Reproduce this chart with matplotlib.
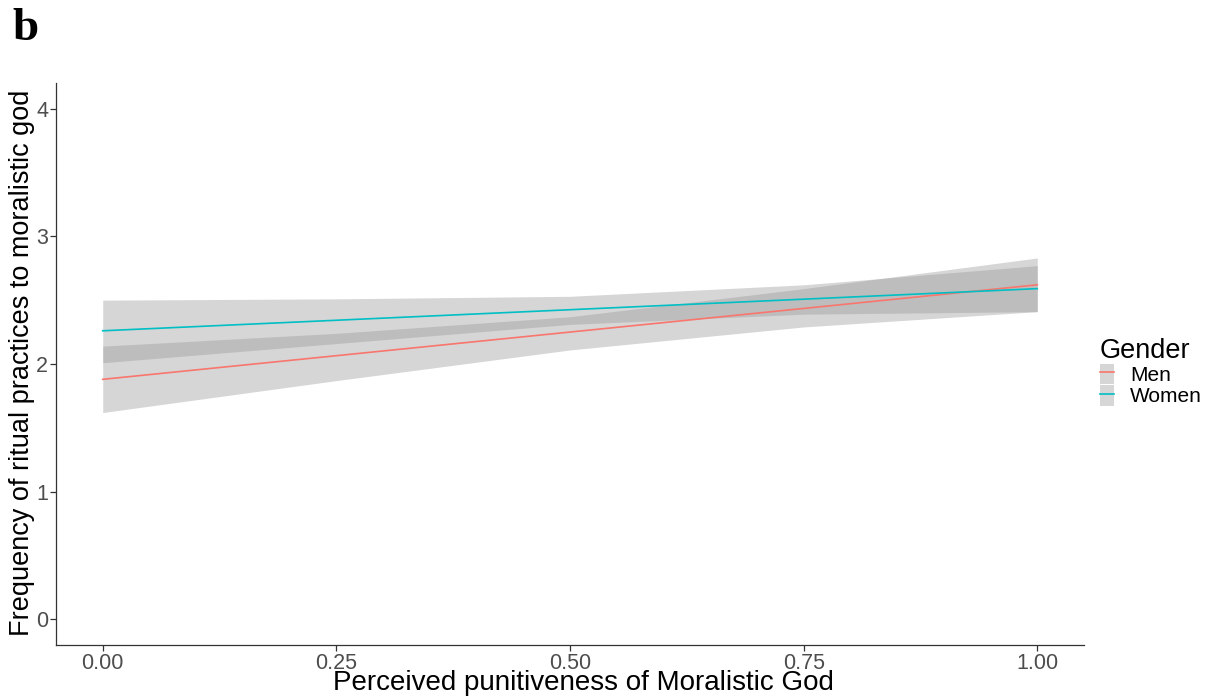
import matplotlib
matplotlib.use("Agg")
import matplotlib.pyplot as plt
from matplotlib.patches import Patch
from matplotlib.lines import Line2D

plt.rcParams['font.family'] = ['Liberation Sans', 'DejaVu Sans']

groups = ["Men", "Women"]
colors = ["#F8766D", "#00BFC4"]
line_x = [0.0, 1.0]
men_line = [1.88, 2.62]
women_line = [2.26, 2.59]
band_x = [0.0, 0.25, 0.5, 0.75, 1.0]
men_lower = [1.62, 1.87, 2.11, 2.29, 2.41]
men_upper = [2.14, 2.24, 2.37, 2.59, 2.83]
women_lower = [2.01, 2.16, 2.31, 2.39, 2.41]
women_upper = [2.50, 2.51, 2.53, 2.62, 2.77]
xticks = [0.0, 0.25, 0.5, 0.75, 1.0]
xticklabels = ["0.00", "0.25", "0.50", "0.75", "1.00"]
yticks = [0, 1, 2, 3, 4]

W, H = 1212, 698
fig = plt.figure(figsize=(W / 100, H / 100), dpi=100)
ax = fig.add_axes([56 / W, (H - 645) / H, (1084 - 56) / W, (645 - 83) / H])

lines = [men_line, women_line]
lowers = [men_lower, women_lower]
uppers = [men_upper, women_upper]
handles = []
for g, c, ln, lo, up in zip(groups, colors, lines, lowers, uppers):
    ax.fill_between(band_x, lo, up, color="#999999", alpha=0.4, linewidth=0)
for g, c, ln in zip(groups, colors, lines):
    ax.plot(line_x, ln, color=c, linewidth=1.2)
    handles.append((Patch(facecolor="#999999", alpha=0.4, edgecolor="none"),
                    Line2D([], [], color=c, linewidth=1.2)))

ax.set_xlim(-0.05, 1.05)
ax.set_ylim(-0.2, 4.2)
ax.set_xticks(xticks)
ax.set_xticklabels(xticklabels)
ax.set_yticks(yticks)
for s in ["top", "right"]:
    ax.spines[s].set_visible(False)
for s in ["left", "bottom"]:
    ax.spines[s].set_color("#333333")
    ax.spines[s].set_linewidth(0.9)
ax.tick_params(axis="both", colors="#333333", labelcolor="#4d4d4d",
               labelsize=15.5, length=4, width=0.9, pad=2)
ax.tick_params(axis="y", pad=1.5)

fig.text(583 / W, 1 - 690 / H, "Perceived punitiveness of Moralistic God",
         ha="center", va="baseline", fontsize=20)
fig.text(22 / W, 1 - 363 / H, "Frequency of ritual practices to moralistic god",
         ha="center", va="center", rotation=90, fontsize=19.5)
fig.text(12 / W, 1 - 29 / H, "b", ha="left", va="center", fontsize=34,
         fontweight="bold", family=["Liberation Serif", "DejaVu Serif"])

leg = ax.legend(handles, groups, title="Gender", loc="center left",
                bbox_to_anchor=(1100 / W, 1 - 372 / H),
                bbox_transform=fig.transFigure, frameon=False, fontsize=15,
                title_fontsize=19.5, handlelength=0.67, handleheight=1.15,
                labelspacing=0.0, handletextpad=0.77, borderaxespad=0.0,
                borderpad=0.0, alignment="left")

fig.savefig("out.png", dpi=100)
